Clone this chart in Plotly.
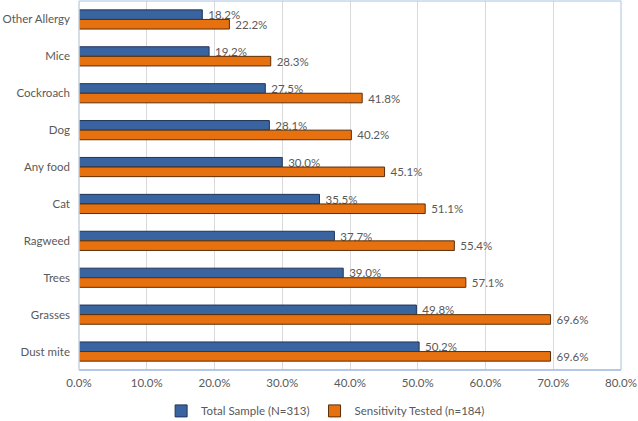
import plotly.graph_objects as go

categories = ["Other Allergy", "Mice", "Cockroach", "Dog", "Any food", "Cat",
              "Ragweed", "Trees", "Grasses", "Dust mite"]
total_sample = [18.2, 19.2, 27.5, 28.1, 30.0, 35.5, 37.7, 39.0, 49.8, 50.2]
sensitivity_tested = [22.2, 28.3, 41.8, 40.2, 45.1, 51.1, 55.4, 57.1, 69.6, 69.6]
x_ticks = [0, 10, 20, 30, 40, 50, 60, 70, 80]

FONT = "Lato, 'Open Sans', sans-serif"
GREY = "#595959"
FS = 11.5

fig = go.Figure()
fig.add_trace(go.Bar(
    y=categories, x=[v / 100 for v in total_sample], orientation="h",
    name="Total Sample (N=313)",
    marker=dict(color="#3A64A0", line=dict(color="#1F3559", width=1)),
    text=[f"\u00a0{v:.1f}%" for v in total_sample], textposition="outside",
    constraintext="none",
    textfont=dict(color=GREY, size=FS, family=FONT), cliponaxis=False,
))
fig.add_trace(go.Bar(
    y=categories, x=[v / 100 for v in sensitivity_tested], orientation="h",
    name="Sensitivity Tested (n=184)",
    marker=dict(color="#E8710F", line=dict(color="#5A2E08", width=1)),
    text=[f"\u00a0{v:.1f}%" for v in sensitivity_tested], textposition="outside",
    constraintext="none",
    textfont=dict(color=GREY, size=FS, family=FONT), cliponaxis=False,
))

fig.update_layout(
    width=638, height=421,
    margin=dict(l=79, r=17, t=1, b=51, autoexpand=False),
    barmode="group", bargap=0.48, bargroupgap=0,
    plot_bgcolor="white", paper_bgcolor="white",
    font=dict(family=FONT, size=FS, color=GREY),
    xaxis=dict(range=[0, 0.8], tickvals=[t / 100 for t in x_ticks],
               ticktext=[f"{t:.1f}%" for t in x_ticks],
               showgrid=True, gridcolor="#D9D9D9", gridwidth=1,
               zeroline=False, showline=False, ticks="", automargin=False,
               ticklabelstandoff=4, tickfont=dict(size=FS, color=GREY)),
    yaxis=dict(autorange="reversed", showgrid=False, zeroline=False,
               showline=False, ticks="", ticklabelstandoff=8, automargin=False,
               tickfont=dict(size=FS, color=GREY)),
    legend=dict(orientation="h", xref="paper", x=0.455, xanchor="center",
                yref="container", y=0.024, yanchor="middle",
                font=dict(size=FS, color=GREY),
                traceorder="normal"),
    shapes=[
        dict(type="rect", xref="paper", yref="paper", x0=0, x1=1, y0=0, y1=1,
             line=dict(color="#A9C2E2", width=1), layer="above"),
        dict(type="line", xref="paper", yref="paper", x0=0, x1=1, y0=0, y1=0,
             line=dict(color="#B4C7E7", width=2), layer="above"),
        dict(type="line", xref="paper", yref="paper", x0=0, x1=0, y0=0, y1=1,
             line=dict(color="#D9D9D9", width=1), layer="above"),
    ],
)

fig.write_html("out.html",
               config={"displayModeBar": False},
               post_script="document.body.style.margin='0';document.body.style.overflow='hidden';")
